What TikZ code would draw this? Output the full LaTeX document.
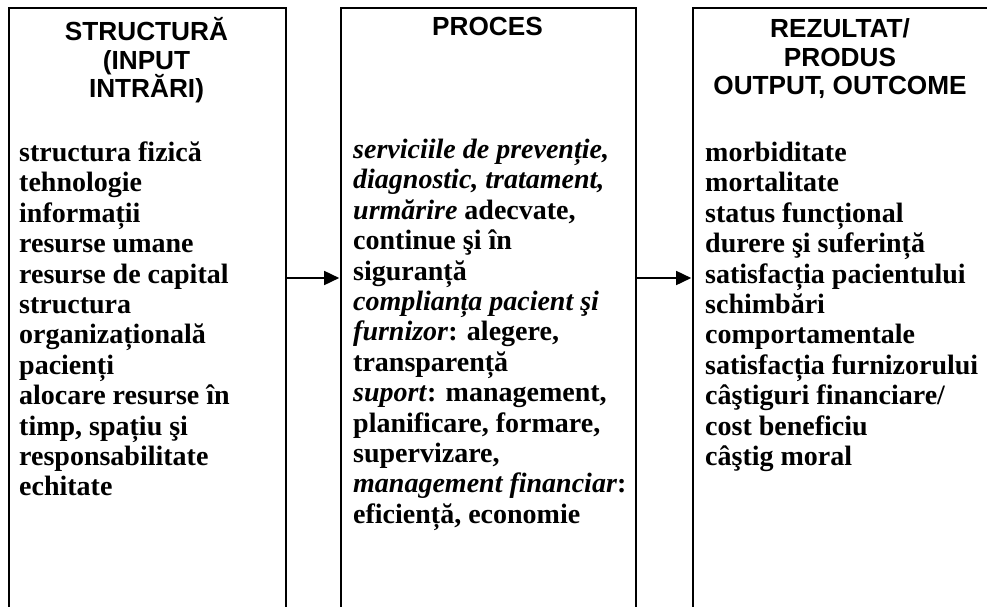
\documentclass[tikz,border=0pt]{standalone}
\usepackage{fontspec}
\setmainfont{Liberation Serif}
\newfontfamily\headfont{Liberation Sans}
\usetikzlibrary{arrows.meta}

\tikzset{
  panel/.style={draw, line width=1.6pt, anchor=north west, inner sep=0pt,
                minimum width=#1, minimum height=700pt},
  heading/.style={anchor=north, inner sep=0pt, align=center,
                  font={\headfont\bfseries\fontsize{26.2}{28.8}\selectfont}},
  body/.style={anchor=north west, inner sep=0pt, align=left,
               font={\bfseries\fontsize{28}{30.4}\selectfont}},
  flow/.style={line width=1.6pt, -{Triangle[length=15pt,width=14pt]}, shorten >=0.8pt}
}

\begin{document}
\begin{tikzpicture}[x=1pt,y=-1pt]
\useasboundingbox (0,0) rectangle (987,607);
\clip (0,0) rectangle (987,607);

% the three panels, open at the bottom of the page
\node[panel=277pt] (struct) at (8,7) {};
\node[panel=295pt] (proc) at (340,7) {};
\node[panel=320pt] (rez) at (692,7) {};

% headings
\node[heading] (struct-h) at (146.5,17) {\strut STRUCTURĂ\\(INPUT\\INTRĂRI)};
\node[heading] (proc-h) at (487.5,15) {\strut PROCES};
\node[heading] (rez-h) at (840,17) {\strut REZULTAT/\\PRODUS\\OUTPUT, OUTCOME};

% panel contents
\node[body] (struct-b) at (19,140) {\strut structura fizică\\
  tehnologie\\
  informații\\
  resurse umane\\
  resurse de capital\\
  structura\\
  organizațională\\
  pacienți\\
  alocare resurse în\\
  timp, spațiu şi\\
  responsabilitate\\
  echitate};

\node[body] (proc-b) at (353,137) {\strut\textit{serviciile de prevenție,}\\
  \textit{diagnostic, tratament,}\\
  \textit{urmărire} adecvate,\\
  continue şi în\\
  siguranță\\
  \textit{complianța pacient şi}\\
  \textit{furnizor}: alegere,\\
  transparență\\
  \textit{suport}: management,\\
  planificare, formare,\\
  supervizare,\\
  \textit{management financiar}:\\
  eficiență, economie};

\node[body] (rez-b) at (705,140) {\strut morbiditate\\
  mortalitate\\
  status funcțional\\
  durere şi suferință\\
  satisfacția pacientului\\
  schimbări\\
  comportamentale\\
  satisfacția furnizorului\\
  câştiguri financiare/\\
  cost beneficiu\\
  câştig moral};

% connectors between the panels
\coordinate (flowline) at (0,278);
\draw[flow] (struct.east |- flowline) -- (proc.west |- flowline);
\draw[flow] (proc.east |- flowline) -- (rez.west |- flowline);
\end{tikzpicture}
\end{document}
